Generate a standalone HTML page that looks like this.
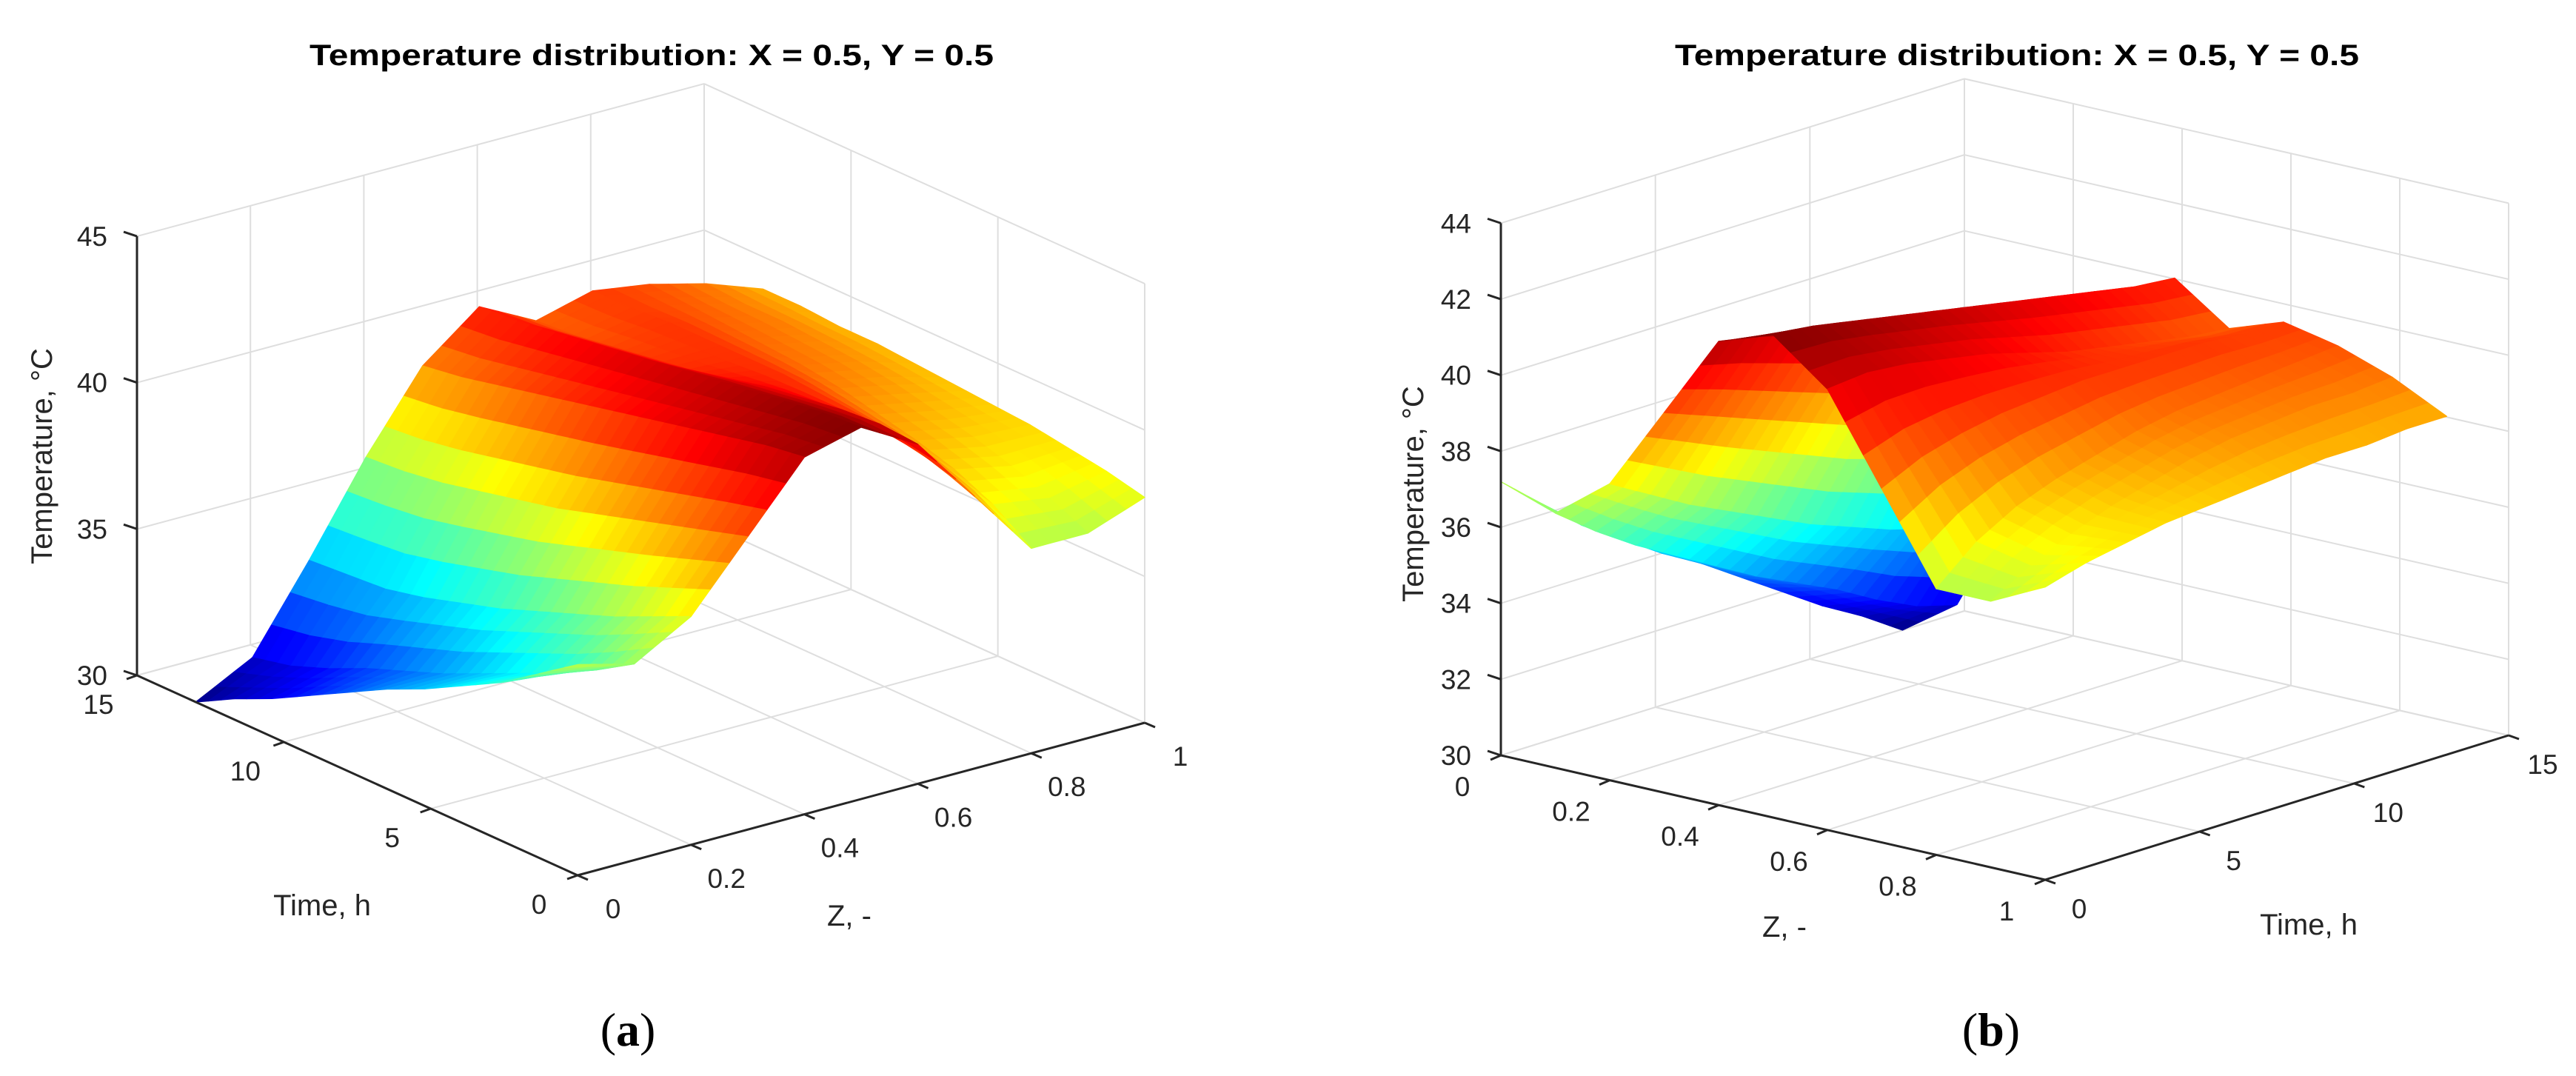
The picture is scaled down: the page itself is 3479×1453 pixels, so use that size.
<!DOCTYPE html>
<html><head><meta charset="utf-8"><title>Temperature distribution</title>
<style>
html,body{margin:0;padding:0;background:#fff;}
svg{display:block;}
text{font-family:"Liberation Sans",Arial,sans-serif;}
</style></head>
<body>
<svg id="fig" xmlns="http://www.w3.org/2000/svg" width="3479" height="1453" viewBox="0 0 3479 1453">
<rect x="0" y="0" width="3479" height="1453" fill="#fff"/>
<g id="chartA"></g>
<g id="chartB"></g>
<text x="848" y="1412" text-anchor="middle" font-size="64" style="font-family:'Liberation Serif',serif">(<tspan font-weight="bold">a</tspan>)</text>
<text x="2689" y="1412" text-anchor="middle" font-size="64" style="font-family:'Liberation Serif',serif">(<tspan font-weight="bold">b</tspan>)</text>
</svg>
<script>
// ---- data ----
const zValues = [0, 0.1, 0.2, 0.3, 0.4, 0.5, 0.6, 0.7, 0.8, 0.9, 1.0];
const timeValues = [0, 1.3, 2.6, 3.9, 5.2, 6.5, 7.8, 9.1, 10.4, 11.7, 13];
// temperature rows, one per time value, columns per Z value
const temperature = [
  [37.2, 36.7, 37.8, 40.0, 42.2, 42.7, 41.6, 39.3, 37.0, 37.0, 37.7],
  [36.3, 35.9, 37.2, 39.6, 42.0, 42.6, 41.7, 39.8, 37.9, 37.6, 38.0],
  [35.4, 35.2, 36.6, 39.2, 41.7, 42.4, 41.6, 40.1, 38.5, 38.1, 38.2],
  [34.7, 34.6, 36.1, 38.8, 41.4, 42.2, 41.4, 40.3, 38.9, 38.5, 38.4],
  [34.0, 34.0, 35.6, 38.4, 41.1, 42.0, 41.2, 40.4, 39.2, 38.8, 38.5],
  [33.4, 33.4, 35.1, 38.0, 40.8, 41.8, 40.9, 40.5, 39.5, 39.1, 38.6],
  [32.7, 32.9, 34.7, 37.7, 40.5, 41.6, 40.6, 40.5, 39.7, 39.3, 38.7],
  [32.0, 32.4, 34.3, 37.4, 40.2, 41.4, 40.4, 40.5, 39.8, 39.4, 38.8],
  [31.3, 31.8, 34.0, 37.1, 39.9, 41.2, 40.2, 40.5, 39.9, 39.5, 38.8],
  [30.7, 31.3, 33.9, 36.9, 39.6, 41.0, 40.0, 40.4, 40.0, 39.5, 38.9],
  [30.0, 31.0, 33.8, 36.8, 39.4, 40.9, 39.9, 40.4, 40.1, 39.6, 38.9]
];
const zTicks = [0, 0.2, 0.4, 0.6, 0.8, 1];
const zTickLabels = ["0", "0.2", "0.4", "0.6", "0.8", "1"];
const timeTicks = [0, 5, 10, 15];
const timeTickLabels = ["0", "5", "10", "15"];
const tempTicksA = [30, 35, 40, 45];
const tempTickLabelsA = ["30", "35", "40", "45"];
const tempTicksB = [30, 32, 34, 36, 38, 40, 42, 44];
const tempTickLabelsB = ["30", "32", "34", "36", "38", "40", "42", "44"];

const NS = "http://www.w3.org/2000/svg";
function mk(tag, attrs, parent) {
  const e = document.createElementNS(NS, tag);
  for (const k in attrs) e.setAttribute(k, attrs[k]);
  parent.appendChild(e);
  return e;
}
function jet(v) {
  v = Math.max(0, Math.min(1, v));
  const c = x => Math.round(255 * Math.max(0, Math.min(1, x)));
  return "rgb(" + c(1.5 - Math.abs(4 * v - 3)) + "," + c(1.5 - Math.abs(4 * v - 2)) + "," + c(1.5 - Math.abs(4 * v - 1)) + ")";
}

// ---- views (layout only) ----
const viewA = {
  g: document.getElementById("chartA"),
  tmin: 30, tmax: 45,
  proj: (z, t, T) => [185 + (15 - t) / 15 * 595 + 766 * z, 912 + (15 - t) / 15 * 270 - 206 * z - 39.53 * (T - 30)],
  wallT: 15, wallZ: 1,
  vert: [0, 15], zAxisT: 0, tAxisZ: 0,
  temps: tempTicksA, tempLabels: tempTickLabelsA,
  title: [880, 88], titleName: "chart-a-title",
  tLabOff: [-52, 52], zLabOff: [48, 58],
  vLabX: 145,
  ylab: [70, 616], tlab: [435, 1236], zlab: [1147, 1250],
  prefix: "a"
};
const viewB = {
  g: document.getElementById("chartB"),
  tmin: 30, tmax: 44,
  proj: (z, t, T) => [2027 + 735 * z + 626 * t / 15, 1020 + 168 * z - 195 * t / 15 - 51.33 * (T - 30)],
  wallT: 15, wallZ: 0,
  vert: [0, 0], zAxisT: 0, tAxisZ: 1,
  temps: tempTicksB, tempLabels: tempTickLabelsB,
  title: [2724, 88], titleName: "chart-b-title",
  tLabOff: [46, 52], zLabOff: [-52, 55],
  vLabX: 1987,
  ylab: [1922, 667], tlab: [3118, 1262], zlab: [2410, 1265],
  prefix: "b"
};

function line(g, p, q, stroke, w, name) {
  const l = mk("line", {x1: p[0], y1: p[1], x2: q[0], y2: q[1], stroke: stroke, "stroke-width": w}, g);
  
  
  return l;
}
function label(g, x, y, s, size, anchor, name, extra) {
  const t = mk("text", {x: x, y: y, "font-size": size, "text-anchor": anchor, fill: "#262626"}, g);
  t.textContent = s;
  
  
  if (extra) for (const k in extra) t.setAttribute(k, extra[k]);
  return t;
}

function draw(v) {
  const P = v.proj, g = v.g, grid = "#dedede";
  const gg = mk("g", {}, g);
  
  
  // back wall at t = wallT
  zTicks.forEach(z => line(gg, P(z, v.wallT, v.tmin), P(z, v.wallT, v.tmax), grid, 2, "grid-z-wall"));
  v.temps.forEach(T => line(gg, P(0, v.wallT, T), P(1, v.wallT, T), grid, 2, "grid-temp-wall-t"));
  // back wall at z = wallZ
  timeTicks.forEach(t => line(gg, P(v.wallZ, t, v.tmin), P(v.wallZ, t, v.tmax), grid, 2, "grid-time-wall"));
  v.temps.forEach(T => line(gg, P(v.wallZ, 0, T), P(v.wallZ, 15, T), grid, 2, "grid-temp-wall-z"));
  // floor
  zTicks.forEach(z => line(gg, P(z, 0, v.tmin), P(z, 15, v.tmin), grid, 2, "grid-floor-z"));
  timeTicks.forEach(t => line(gg, P(0, t, v.tmin), P(1, t, v.tmin), grid, 2, "grid-floor-time"));

  // surface
  let lo = Infinity, hi = -Infinity;
  temperature.forEach(r => r.forEach(x => { lo = Math.min(lo, x); hi = Math.max(hi, x); }));
  const sg = mk("g", {}, g);
  
  
  const facets = [];
  const n = 3;
  for (let i = 0; i < timeValues.length - 1; i++) {
    for (let j = 0; j < zValues.length - 1; j++) {
      const T00 = temperature[i][j], T01 = temperature[i][j + 1], T10 = temperature[i + 1][j], T11 = temperature[i + 1][j + 1];
      const bil = (a, b) => T00 * (1 - a) * (1 - b) + T01 * (1 - a) * b + T10 * a * (1 - b) + T11 * a * b;
      for (let a = 0; a < n; a++) for (let b = 0; b < n; b++) {
        const a0 = a / n, a1 = (a + 1) / n, b0 = b / n, b1 = (b + 1) / n;
        const tt = x => timeValues[i] + x * (timeValues[i + 1] - timeValues[i]);
        const zz = x => zValues[j] + x * (zValues[j + 1] - zValues[j]);
        const corners = [[a0, b0], [a0, b1], [a1, b1], [a1, b0]];
        const pts = corners.map(c => P(zz(c[1]), tt(c[0]), bil(c[0], c[1])));
        const mean = corners.reduce((s, c) => s + bil(c[0], c[1]), 0) / 4;
        const depth = P(zz((b0 + b1) / 2), tt((a0 + a1) / 2), 30)[1];
        facets.push({pts, mean, depth});
      }
    }
  }
  facets.sort((p, q) => p.depth - q.depth);
  facets.forEach(f => {
    const col = jet((f.mean - lo) / (hi - lo));
    const poly = mk("polygon", {points: f.pts.map(p => p[0].toFixed(1) + "," + p[1].toFixed(1)).join(" "), fill: col, stroke: col, "stroke-width": 1.2, "stroke-linejoin": "round"}, sg);
    
    
  });

  // axes
  const ax = "#262626";
  const ag = mk("g", {}, g);
  
  
  line(ag, P(v.vert[0], v.vert[1], v.tmin), P(v.vert[0], v.vert[1], v.tmax), ax, 3, "temperature-axis-line");
  line(ag, P(v.tAxisZ, 0, v.tmin), P(v.tAxisZ, 15, v.tmin), ax, 3, "time-axis-line");
  line(ag, P(0, v.zAxisT, v.tmin), P(1, v.zAxisT, v.tmin), ax, 3, "z-axis-line");
  v.temps.forEach((T, k) => {
    const p = P(v.vert[0], v.vert[1], T);
    line(ag, p, [p[0] - 18, p[1] - 6], ax, 3, "temperature-tick");
    label(ag, v.vLabX, p[1] + 13, v.tempLabels[k], 37, "end", "temperature-tick-label");
  });
  timeTicks.forEach((t, k) => {
    const p = P(v.tAxisZ, t, v.tmin);
    line(ag, p, [p[0] + (v.prefix === "a" ? -14 : 14), p[1] + 5], ax, 3, "time-tick");
    label(ag, p[0] + v.tLabOff[0], p[1] + v.tLabOff[1], timeTickLabels[k], 37, "middle", "time-tick-label");
  });
  zTicks.forEach((z, k) => {
    const p = P(z, v.zAxisT, v.tmin);
    line(ag, p, [p[0] + (v.prefix === "a" ? 14 : -14), p[1] + 6], ax, 3, "z-tick");
    label(ag, p[0] + v.zLabOff[0], p[1] + v.zLabOff[1], zTickLabels[k], 37, "middle", "z-tick-label");
  });
  // titles
  const tt = label(g, v.title[0], v.title[1], "Temperature distribution: X = 0.5, Y = 0.5", 40, "middle", v.titleName, {"font-weight": "bold", fill: "#000", textLength: 924, lengthAdjust: "spacingAndGlyphs"});
  label(g, v.ylab[0], v.ylab[1], "Temperature, °C", 40, "middle", "temperature-axis-title", {transform: "rotate(-90 " + v.ylab[0] + " " + v.ylab[1] + ")"});
  label(g, v.tlab[0], v.tlab[1], "Time, h", 40, "middle", "time-axis-title");
  label(g, v.zlab[0], v.zlab[1], "Z, -", 40, "middle", "z-axis-title");
}
draw(viewA);
draw(viewB);
</script>
</body></html>
